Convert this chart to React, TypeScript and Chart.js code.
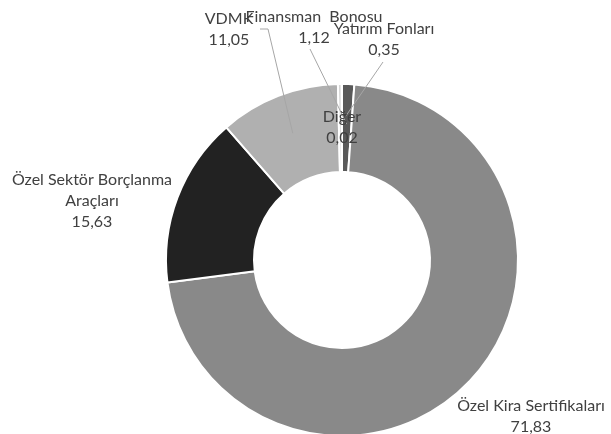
import React, { useEffect, useRef } from "react";
import { Chart, registerables } from "chart.js";

Chart.register(...registerables);

const categories = [
  "Finansman Bonosu",
  "Özel Kira Sertifikaları",
  "Özel Sektör Borçlanma Araçları",
  "VDMK",
  "Yatırım Fonları",
  "Diğer",
];
const values = [1.12, 71.83, 15.63, 11.05, 0.35, 0.02];
const valueLabels = ["1,12", "71,83", "15,63", "11,05", "0,35", "0,02"];
const nameLines = [
  ["Finansman  Bonosu"],
  ["Özel Kira Sertifikaları"],
  ["Özel Sektör Borçlanma", "Araçları"],
  ["VDMK"],
  ["Yatırım Fonları"],
  ["Diğer"],
];

const colors = ["#595959", "#898989", "#222222", "#b0b0b0", "#d6d6d6", "#ececec"];

// label layout: center x, first line y, leader start (or null)
const labelLayout = [
  { x: 314, y: 17, leader: [[310, 49]] },
  { x: 531, y: 406, leader: null },
  { x: 92, y: 180, leader: null },
  { x: 229, y: 19, leader: [[260, 29], [268, 29]] },
  { x: 384, y: 29, leader: [[383, 62]] },
  { x: 342, y: 117, leader: null },
];

const FONT = "Lato, 'Liberation Sans', sans-serif";

const labelPlugin = {
  id: "customLabels",
  afterDatasetsDraw(chart: any) {
    const ctx = chart.ctx;
    const meta = chart.getDatasetMeta(0);
    ctx.save();
    // leader lines
    meta.data.forEach((arc: any, i: number) => {
      const lay = labelLayout[i];
      if (!lay.leader) return;
      const p = arc.getProps(["x", "y", "startAngle", "endAngle", "innerRadius", "outerRadius"], true);
      const mid = (p.startAngle + p.endAngle) / 2;
      const r = (p.innerRadius + p.outerRadius) / 2 + 4;
      const ex = p.x + Math.cos(mid) * r;
      const ey = p.y + Math.sin(mid) * r;
      ctx.beginPath();
      ctx.strokeStyle = "#a6a6a6";
      ctx.lineWidth = 1;
      ctx.moveTo(lay.leader[0][0], lay.leader[0][1]);
      for (let k = 1; k < lay.leader.length; k++) ctx.lineTo(lay.leader[k][0], lay.leader[k][1]);
      ctx.lineTo(ex, ey);
      ctx.stroke();
    });
    // texts
    ctx.fillStyle = "#404040";
    ctx.font = "16px " + FONT;
    ctx.textAlign = "center";
    ctx.textBaseline = "middle";
    const lh = 21;
    categories.forEach((_, i) => {
      const lay = labelLayout[i];
      const lines = [...nameLines[i], valueLabels[i]];
      lines.forEach((t, k) => ctx.fillText(t, lay.x, lay.y + k * lh));
    });
    ctx.restore();
  },
};

export default function App() {
  const ref = useRef<HTMLCanvasElement>(null);
  useEffect(() => {
    document.body.style.margin = "0";
    document.body.style.overflow = "hidden";
    const chart = new Chart(ref.current!, {
      type: "doughnut",
      data: {
        labels: categories,
        datasets: [
          {
            data: values,
            backgroundColor: colors,
            borderColor: "#ffffff",
            borderWidth: 2,
          },
        ],
      },
      options: {
        animation: false,
        responsive: false,
        cutout: "50%",
        rotation: 0,
        layout: { padding: { left: 165, right: 92, top: 83, bottom: 3 } },
        plugins: {
          legend: { display: false },
          tooltip: { enabled: false },
        },
      },
      plugins: [labelPlugin],
    });
    return () => chart.destroy();
  }, []);
  return (
    <div style={{ position: "absolute", left: 0, top: 0, width: 611, height: 440, background: "#fff" }}>
      <canvas ref={ref} width={611} height={440} style={{ width: 611, height: 440 }} />
    </div>
  );
}
